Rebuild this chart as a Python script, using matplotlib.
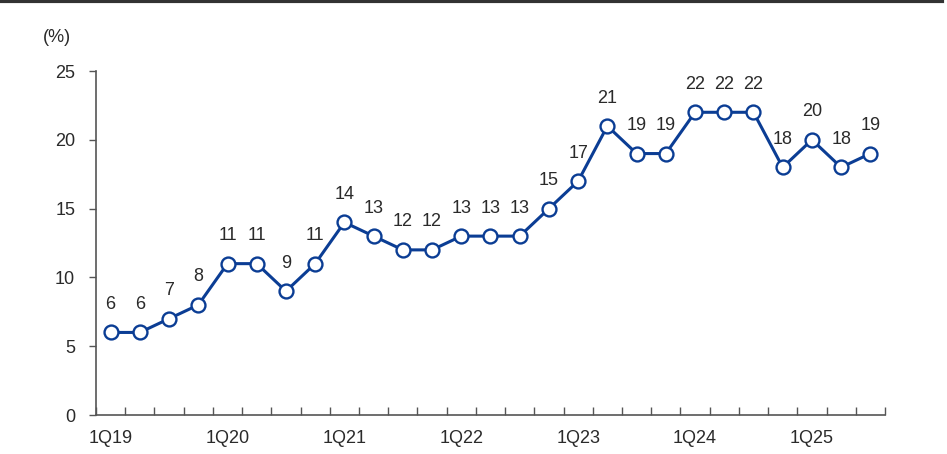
import matplotlib
matplotlib.use('Agg')
import matplotlib.pyplot as plt
import numpy as np

plt.rcParams['font.family'] = ['Liberation Sans', 'DejaVu Sans']

quarters = ['1Q19', '2Q19', '3Q19', '4Q19', '1Q20', '2Q20', '3Q20', '4Q20',
            '1Q21', '2Q21', '3Q21', '4Q21', '1Q22', '2Q22', '3Q22', '4Q22',
            '1Q23', '2Q23', '3Q23', '4Q23', '1Q24', '2Q24', '3Q24', '4Q24',
            '1Q25', '2Q25', '3Q25']
values = [6, 6, 7, 8, 11, 11, 9, 11, 14, 13, 12, 12, 13, 13, 13, 15,
          17, 21, 19, 19, 22, 22, 22, 18, 20, 18, 19]
y_ticks = [0, 5, 10, 15, 20, 25]

line_color = '#0b3d94'
axis_color = '#555555'
text_color = '#2a2a2a'
fs = 13

fig = plt.figure(figsize=(9.47, 4.54), dpi=100)
ax = fig.add_axes([0.1014, 0.0859, 0.8331, 0.7577])

x = np.arange(len(values))
ax.plot(x, values, color=line_color, lw=2.2, marker='o', ms=10,
        mfc='white', mec=line_color, mew=1.7, zorder=3)

for xi, v in zip(x, values):
    ax.annotate(str(v), (xi, v), xytext=(0, 14), textcoords='offset points',
                ha='center', va='bottom', fontsize=fs, color=text_color)

ax.set_xlim(-0.5, len(values) - 0.5)
ax.set_ylim(0, 25)
ax.set_yticks(y_ticks)
ax.set_yticklabels([str(t) for t in y_ticks], fontsize=fs, color=text_color)

# category boundary ticks pointing up, labels every 4 quarters
ax.set_xticks(np.arange(len(values) + 1) - 0.5)
ax.set_xticklabels([])
ax.set_xticks(x[::4], minor=True)
ax.set_xticklabels(quarters[::4], minor=True, fontsize=fs, color=text_color)
ax.tick_params(axis='x', which='major', direction='in', length=6,
               color=axis_color, width=1)
ax.tick_params(axis='x', which='minor', length=0, pad=11)
ax.tick_params(axis='y', direction='out', length=5, color=axis_color,
               width=1, pad=10)

for side in ['top', 'right']:
    ax.spines[side].set_visible(False)
for side in ['left', 'bottom']:
    ax.spines[side].set_color(axis_color)
    ax.spines[side].set_linewidth(1.2)

fig.text(57 / 947, 1 - 37 / 454, '(%)', fontsize=fs, color=text_color,
         ha='center', va='center')

# top rule
fig.add_artist(plt.Line2D([0, 0.995], [0.997, 0.997], color='#333333',
                          lw=3, transform=fig.transFigure))

fig.savefig('out.png', dpi=100)
